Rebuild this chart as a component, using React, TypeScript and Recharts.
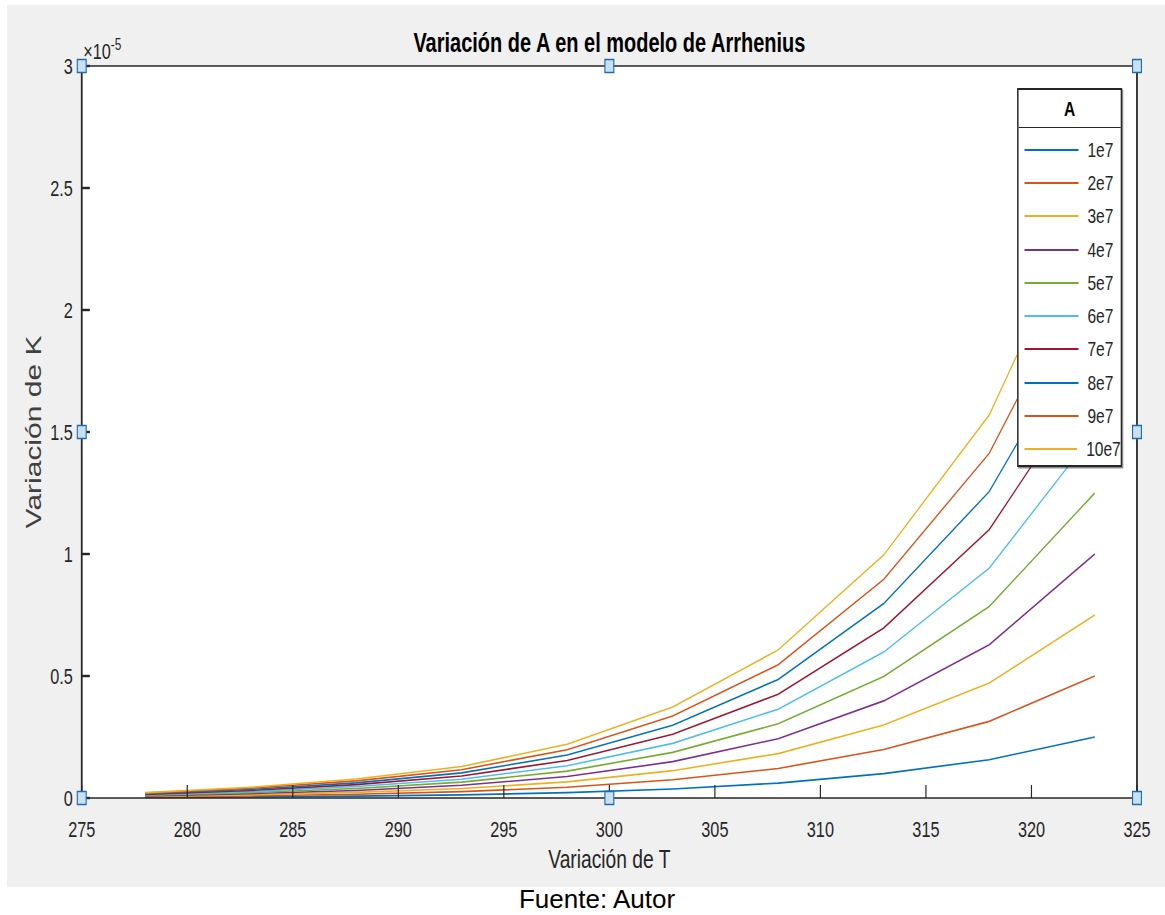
import React from "react";
import {
  LineChart,
  Line,
  XAxis,
  YAxis,
  CartesianGrid,
  Legend,
  ReferenceDot,
} from "recharts";

// temperatures (K)
const temps = [278, 283, 288, 293, 298, 303, 308, 313, 318, 323];

// K values, in units of 1e-5, one list per A
const k1e7 = [0.0022, 0.0044, 0.0078, 0.0129, 0.022, 0.037, 0.061, 0.1, 0.157, 0.25];
const k2e7 = [0.0044, 0.0088, 0.0156, 0.026, 0.044, 0.075, 0.121, 0.199, 0.314, 0.5];
const k3e7 = [0.0066, 0.013, 0.023, 0.039, 0.066, 0.112, 0.182, 0.299, 0.471, 0.75];
const k4e7 = [0.0088, 0.018, 0.031, 0.052, 0.088, 0.149, 0.243, 0.398, 0.628, 1.0];
const k5e7 = [0.011, 0.022, 0.039, 0.065, 0.11, 0.187, 0.304, 0.498, 0.785, 1.25];
const k6e7 = [0.013, 0.026, 0.047, 0.077, 0.132, 0.224, 0.364, 0.598, 0.942, 1.5];
const k7e7 = [0.015, 0.031, 0.055, 0.09, 0.154, 0.261, 0.425, 0.697, 1.1, 1.75];
const k8e7 = [0.018, 0.035, 0.062, 0.103, 0.176, 0.298, 0.486, 0.797, 1.256, 2.0];
const k9e7 = [0.02, 0.04, 0.07, 0.116, 0.198, 0.336, 0.546, 0.896, 1.413, 2.25];
const k10e7 = [0.022, 0.044, 0.078, 0.129, 0.22, 0.373, 0.607, 0.996, 1.57, 2.5];

const seriesNames = ["1e7", "2e7", "3e7", "4e7", "5e7", "6e7", "7e7", "8e7", "9e7", "10e7"];
const seriesValues = [k1e7, k2e7, k3e7, k4e7, k5e7, k6e7, k7e7, k8e7, k9e7, k10e7];
const colors = [
  "#0072BD", "#D95319", "#EDB120", "#7E2F8E", "#77AC30",
  "#4DBEEE", "#A2142F", "#0072BD", "#D95319", "#EDB120",
];

const xTicks = [275, 280, 285, 290, 295, 300, 305, 310, 315, 320, 325];
const yTicks = [0, 0.5, 1, 1.5, 2, 2.5, 3];

// figure selection handles (data coords)
const handleT = [275, 300, 325, 275, 325, 275, 300, 325];
const handleK = [3, 3, 3, 1.5, 1.5, 0, 0, 0];

const data = temps.map((t, i) => {
  const row: Record<string, number> = { T: t };
  seriesNames.forEach((n, j) => {
    row[n] = seriesValues[j][i];
  });
  return row;
});

// the figure is squeezed horizontally in the reference
const SX = 0.74;
const PANEL_W = 1158;
const PANEL_H = 882;
const W = Math.round(PANEL_W / SX);
const AXIS = "#262626";

function LegendBox() {
  return (
    <div
      style={{
        background: "#fff",
        border: `2px solid ${AXIS}`,
        boxShadow: "1.5px 1.5px 0 rgba(0,0,0,0.45)",
        boxSizing: "border-box",
        height: 379,
      }}
    >
      <div
        style={{
          height: 37,
          borderBottom: `1.5px solid ${AXIS}`,
          display: "flex",
          alignItems: "center",
          justifyContent: "center",
          fontWeight: "bold",
          fontSize: 21,
          color: "#000",
        }}
      >
        A
      </div>
      <div style={{ paddingTop: 5 }}>
        {seriesNames.map((n, i) => (
          <div
            key={n}
            style={{ height: 33.3, display: "flex", alignItems: "center" }}
          >
            <div
              style={{
                marginLeft: 8,
                width: 73,
                height: 2,
                background: colors[i],
              }}
            />
            <span style={{ marginLeft: 12, fontSize: 21, color: AXIS }}>
              {n}
            </span>
          </div>
        ))}
      </div>
    </div>
  );
}

const Handle = (props: any) => {
  const { cx, cy } = props;
  return (
    <rect
      x={cx - 6}
      y={cy - 6.5}
      width={12}
      height={13}
      fill="#c9dff2"
      stroke="#1f6bb0"
      strokeWidth={1.5}
    />
  );
};

const Exponent = () => (
  <text x={103} y={54} fill={AXIS} style={{ fontSize: 22 }}>
    <tspan style={{ fontSize: 22 }}>×10</tspan>
    <tspan dy={-9} style={{ fontSize: 16 }}>
      -5
    </tspan>
  </text>
);

export default function App() {
  return (
    <div
      style={{
        position: "relative",
        width: 1165,
        height: 915,
        background: "#fff",
        fontFamily: "'Liberation Sans', Arial, Helvetica, sans-serif",
        overflow: "hidden",
      }}
    >
      <style>{"body{margin:0}"}</style>
      <div
        style={{
          position: "absolute",
          left: 7,
          top: 5,
          width: PANEL_W,
          height: PANEL_H,
          background: "#f0f0f0",
          overflow: "hidden",
        }}
      >
        <div
          style={{
            width: W,
            height: PANEL_H,
            transform: `scaleX(${SX})`,
            transformOrigin: "0 0",
          }}
        >
          <LineChart
            width={W}
            height={PANEL_H}
            data={data}
            margin={{ top: 60, right: 37, bottom: 49, left: 25 }}
          >
            <CartesianGrid horizontal={false} vertical={false} fill="#fff" />
            <XAxis
              dataKey="T"
              type="number"
              domain={[275, 325]}
              ticks={xTicks}
              height={40}
              stroke={AXIS}
              strokeWidth={1.6}
              tickSize={-13}
              tickMargin={36}
              tick={{ fontSize: 22, fill: AXIS }}
              label={{
                value: "Variación de T",
                position: "bottom",
                offset: 12,
                fontSize: 26,
                fill: AXIS,
              }}
            />
            <XAxis
              xAxisId="top"
              orientation="top"
              type="number"
              domain={[275, 325]}
              ticks={xTicks}
              height={1}
              stroke={AXIS}
              strokeWidth={1.6}
              tickSize={-13}
              tickMargin={0}
              tickFormatter={() => ""}
              label={{
                value: "Variación de A en el modelo de Arrhenius",
                position: "top",
                offset: 13,
                fontSize: 27,
                fontWeight: "bold",
                fill: "#000",
              }}
            />
            <YAxis
              type="number"
              domain={[0, 3]}
              ticks={yTicks}
              width={76}
              stroke={AXIS}
              strokeWidth={2.4}
              tickSize={-11}
              tickMargin={23}
              tick={{ fontSize: 22, fill: AXIS }}
              label={{
                value: "Variación de K",
                angle: -90,
                position: "insideLeft",
                offset: 10,
                fontSize: 30,
                fill: "#404040",
                style: { textAnchor: "middle" },
              }}
            />
            <YAxis
              yAxisId="right"
              orientation="right"
              type="number"
              domain={[0, 3]}
              ticks={yTicks}
              width={1}
              stroke={AXIS}
              strokeWidth={2.4}
              tickSize={-11}
              tickMargin={0}
              tickFormatter={() => ""}
              label={{ content: () => <Exponent /> }}
            />
            {seriesNames.map((n, i) => (
              <Line
                key={n}
                type="linear"
                dataKey={n}
                stroke={colors[i]}
                strokeWidth={1.6}
                dot={false}
                isAnimationActive={false}
              />
            ))}
            {handleT.map((t, i) => (
              <ReferenceDot
                key={i}
                x={t}
                y={handleK[i]}
                ifOverflow="visible"
                shape={Handle}
              />
            ))}
            <Legend
              layout="vertical"
              align="center"
              verticalAlign="middle"
              wrapperStyle={{ left: 1365, top: 83, width: 142 }}
              content={() => <LegendBox />}
            />
          </LineChart>
        </div>
      </div>
      <div
        style={{
          position: "absolute",
          left: 597,
          top: 886,
          transform: "translateX(-50%)",
          fontSize: 26,
          lineHeight: "26px",
          color: "#000",
          whiteSpace: "nowrap",
        }}
      >
        Fuente: Autor
      </div>
    </div>
  );
}
